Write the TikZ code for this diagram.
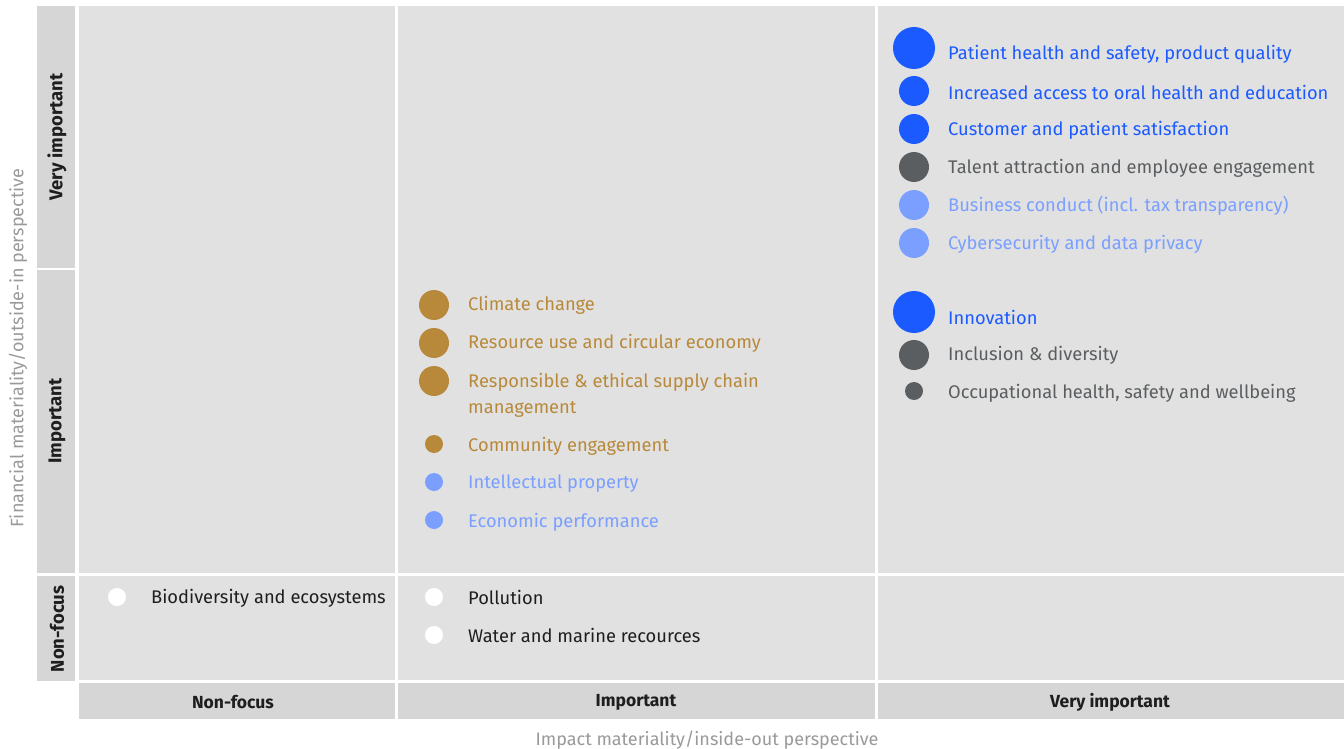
\documentclass[tikz,border=0pt]{standalone}
\usepackage{fontspec}
\setmainfont{Fira Sans}
\definecolor{blueA}{HTML}{1A5AFF}
\definecolor{blueL}{HTML}{7A9FFF}
\definecolor{grayD}{HTML}{5B5E60}
\definecolor{goldC}{HTML}{B8893A}
\definecolor{textK}{HTML}{1E1E1E}
\definecolor{axisG}{HTML}{9A9A9A}
\definecolor{cellC}{HTML}{E1E1E1}
\definecolor{hdrC}{HTML}{D6D6D6}
\tikzset{
  x=1pt,y=-1pt,
  dot/.style={circle,inner sep=0pt,minimum size=#1,draw=none},
  lbl/.style={anchor=west,inner sep=0pt,font=\fontsize{18.3}{26}\selectfont,align=left},
  hdrtxt/.style={inner sep=0pt,font=\fontsize{17.5}{20}\selectfont\bfseries,text=textK},
  rowtxt/.style={inner sep=0pt,font=\fontsize{18.5}{20}\selectfont\bfseries,text=textK,rotate=90},
  axistxt/.style={inner sep=0pt,font=\fontsize{18}{20}\selectfont,text=axisG}
}
\begin{document}
\begin{tikzpicture}
\useasboundingbox[fill=white] (0,0) rectangle (1344,749);
% row headers
\fill[hdrC] (37,6) rectangle (75,268);
\fill[hdrC] (37,270) rectangle (75,573);
\fill[hdrC] (37,576) rectangle (75,681);
% main cells
\fill[cellC] (79,6) rectangle (395,573);
\fill[cellC] (398,6) rectangle (875,573);
\fill[cellC] (878,6) rectangle (1344,573);
\fill[cellC] (79,576) rectangle (395,680);
\fill[cellC] (398,576) rectangle (875,680);
\fill[cellC] (878,576) rectangle (1344,680);
% column headers
\fill[hdrC] (79,683) rectangle (395,719);
\fill[hdrC] (398,683) rectangle (875,719);
\fill[hdrC] (878,683) rectangle (1344,719);

\node[rowtxt] (rVI) at (57,137) {Very important};
\node[rowtxt] (rIM) at (57,421) {Important};
\node[rowtxt] (rNF) at (57,629) {Non-focus};
\node[hdrtxt] (cNF) at (233,702) {Non-focus};
\node[hdrtxt] (cIM) at (636,702) {Important};
\node[hdrtxt] (cVI) at (1110,702) {Very important};
\node[axistxt] (ax) at (707,740) {Impact materiality/inside-out perspective};
\node[axistxt,rotate=90] (ay) at (18,348) {Financial materiality/outside-in perspective};

% column 3
\node[dot=42pt,fill=blueA] (d1) at (914,48) {};
\node[lbl,text=blueA] (t1) at (948,54) {Patient health and safety, product quality};
\node[dot=30pt,fill=blueA] (d2) at (914,91) {};
\node[lbl,text=blueA] (t2) at (948,92) {Increased access to oral health and education};
\node[dot=30pt,fill=blueA] (d3) at (914,129) {};
\node[lbl,text=blueA] (t3) at (948,130) {Customer and patient satisfaction};
\node[dot=30pt,fill=grayD] (d4) at (914,167) {};
\node[lbl,text=grayD] (t4) at (948,168) {Talent attraction and employee engagement};
\node[dot=30pt,fill=blueL] (d5) at (914,205) {};
\node[lbl,text=blueL] (t5) at (948,206) {Business conduct (incl. tax transparency)};
\node[dot=30pt,fill=blueL] (d6) at (914,243) {};
\node[lbl,text=blueL] (t6) at (948,244) {Cybersecurity and data privacy};
\node[dot=42pt,fill=blueA] (d7) at (914,312) {};
\node[lbl,text=blueA] (t7) at (948,317) {Innovation};
\node[dot=30pt,fill=grayD] (d8) at (914,355) {};
\node[lbl,text=grayD] (t8) at (948,355) {Inclusion \& diversity};
\node[dot=18pt,fill=grayD] (d9) at (914,391) {};
\node[lbl,text=grayD] (t9) at (948,393) {Occupational health, safety and wellbeing};

% column 2
\node[dot=30pt,fill=goldC] (e1) at (434,305) {};
\node[lbl,text=goldC] (u1) at (468,305) {Climate change};
\node[dot=30pt,fill=goldC] (e2) at (434,343) {};
\node[lbl,text=goldC] (u2) at (468,343) {Resource use and circular economy};
\node[dot=30pt,fill=goldC] (e3) at (434,381) {};
\node[lbl,text=goldC] (u3) at (468,395) {Responsible \& ethical supply chain\\management};
\node[dot=18pt,fill=goldC] (e4) at (434,444) {};
\node[lbl,text=goldC] (u4) at (468,446) {Community engagement};
\node[dot=18pt,fill=blueL] (e5) at (434,482) {};
\node[lbl,text=blueL] (u5) at (468,484) {Intellectual property};
\node[dot=18pt,fill=blueL] (e6) at (434,520) {};
\node[lbl,text=blueL] (u6) at (468,522) {Economic performance};

% non-focus row
\node[dot=18pt,fill=white] (f1) at (117,597) {};
\node[lbl,text=textK] (v1) at (151,598) {Biodiversity and ecosystems};
\node[dot=18pt,fill=white] (f2) at (434,597) {};
\node[lbl,text=textK] (v2) at (468,597) {Pollution};
\node[dot=18pt,fill=white] (f3) at (434,635) {};
\node[lbl,text=textK] (v3) at (468,635) {Water and marine recources};
\end{tikzpicture}
\end{document}
